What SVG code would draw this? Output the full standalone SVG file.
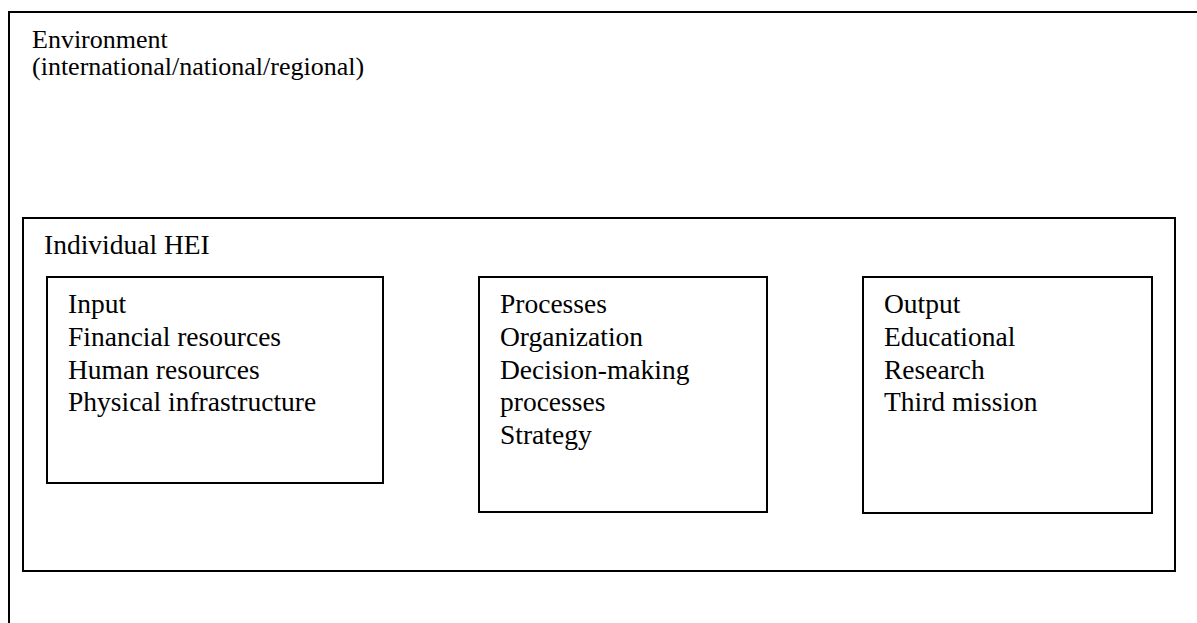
<svg xmlns="http://www.w3.org/2000/svg" width="1197" height="623" viewBox="0 0 1197 623">
<style>
.box{fill:none;stroke:#000;stroke-width:2}
text{font-family:'Liberation Serif','Times New Roman',Times,'DejaVu Serif',serif;font-size:27.5px;fill:#000}
text.env{font-size:26px}
</style>
<rect x="0" y="0" width="1197" height="623" fill="#fff"/>
<g id="environment">
<rect class="box" x="9" y="12" width="1200" height="630"/>
<text class="env" x="32" y="48">Environment</text>
<text class="env" x="32" y="75">(international/national/regional)</text>
</g>
<g id="hei">
<rect class="box" x="23" y="218" width="1152" height="353"/>
<text x="44" y="254">Individual HEI</text>
</g>
<g id="input">
<rect class="box" x="47" y="277" width="336" height="206"/>
<text x="68" y="313">Input</text>
<text x="68" y="346">Financial resources</text>
<text x="68" y="379">Human resources</text>
<text x="68" y="411">Physical infrastructure</text>
</g>
<g id="processes">
<rect class="box" x="479" y="277" width="288" height="235"/>
<text x="500" y="313">Processes</text>
<text x="500" y="346">Organization</text>
<text x="500" y="379">Decision-making</text>
<text x="500" y="411">processes</text>
<text x="500" y="444">Strategy</text>
</g>
<g id="output">
<rect class="box" x="863" y="277" width="289" height="236"/>
<text x="884" y="313">Output</text>
<text x="884" y="346">Educational</text>
<text x="884" y="379">Research</text>
<text x="884" y="411">Third mission</text>
</g>
<g id="connectors"></g>
</svg>
